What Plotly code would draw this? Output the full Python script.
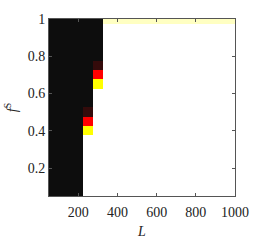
import plotly.graph_objects as go
import numpy as np

# L values (columns) and f^S values (rows)
L = [50, 100, 150, 200, 250, 300, 350, 400, 450, 500,
     550, 600, 650, 700, 750, 800, 850, 900, 950, 1000]
fS = [0.05, 0.10, 0.15, 0.20, 0.25, 0.30, 0.35, 0.40, 0.45, 0.50,
      0.55, 0.60, 0.65, 0.70, 0.75, 0.80, 0.85, 0.90, 0.95, 1.00]

# column values, bottom (fS=0.05) to top (fS=1.0)
col_black = [0, 0, 0, 0, 0, 0, 0, 0, 0, 0,
             0, 0, 0, 0, 0, 0, 0, 0, 0, 0]
col_L250 = [1, 1, 1, 1, 1, 1, 1, 0.75, 0.375, 0.06,
            0, 0, 0, 0, 0, 0, 0, 0, 0, 0]
col_L300 = [1, 1, 1, 1, 1, 1, 1, 1, 1, 1,
            1, 1, 0.75, 0.375, 0.06, 0, 0, 0, 0, 0]
col_white = [1, 1, 1, 1, 1, 1, 1, 1, 1, 1,
             1, 1, 1, 1, 1, 1, 1, 1, 1, 0.94]

columns = [col_black, col_black, col_black, col_black, col_L250, col_L300] + [col_white] * 14

x_ticks = [200, 400, 600, 800, 1000]
y_ticks = [0.2, 0.4, 0.6, 0.8, 1.0]
y_ticktext = ["0.2", "0.4", "0.6", "0.8", "1"]

z = np.array(columns).T.tolist()

hot = [[0.0, "#0d0d0d"], [0.375, "#ff0000"], [0.75, "#ffff00"], [1.0, "#ffffff"]]

fig = go.Figure(go.Heatmap(x=L, y=fS, z=z, colorscale=hot, zmin=0, zmax=1,
                           zsmooth="fast", showscale=False, hoverinfo="skip"))

font_main = dict(family="Liberation Serif, Times New Roman, serif", size=14, color="#222222")

axis_common = dict(showline=True, linecolor="#555555", linewidth=1, mirror="ticks",
                   ticks="inside", ticklen=3, tickcolor="#555555", showgrid=False,
                   zeroline=False, tickfont=font_main)

fig.update_xaxes(range=[50, 1000], tickvals=x_ticks, ticklabelstandoff=3, **axis_common,
                 title=dict(text="<i>L</i>", font=font_main, standoff=7))
fig.update_yaxes(range=[0.05, 1], tickvals=y_ticks, ticktext=y_ticktext, **axis_common,
                 title=dict(text="<i>f</i><sup>S</sup>", font=font_main, standoff=6))

fig.update_layout(width=261, height=249, margin=dict(l=43, r=20, t=13, b=39),
                  paper_bgcolor="white", plot_bgcolor="white",
                  font=font_main, showlegend=False)

post = (
    "document.body.style.margin='0';document.body.style.overflow='hidden';"
    "document.querySelectorAll('image').forEach(function(im){"
    "im.style.imageRendering='pixelated';im.setAttribute('image-rendering','optimizeSpeed');});"
)

fig.write_html("out.html", config={"displayModeBar": False, "staticPlot": True},
               post_script=post)
